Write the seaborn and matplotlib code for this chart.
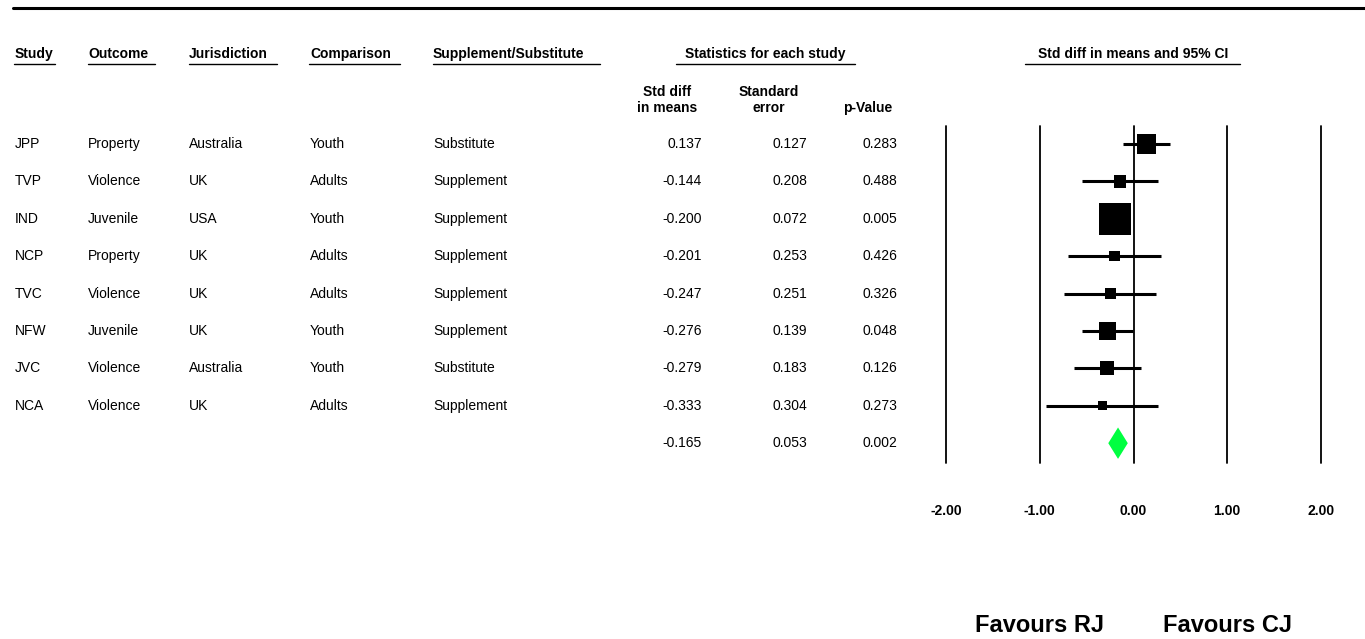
import matplotlib
matplotlib.use("Agg")
import matplotlib.pyplot as plt
import matplotlib.transforms as mtransforms
from matplotlib.lines import Line2D
import seaborn as sns

# study rows
studies = ['JPP', 'TVP', 'IND', 'NCP', 'TVC', 'NFW', 'JVC', 'NCA']
outcomes = ['Property', 'Violence', 'Juvenile', 'Property', 'Violence', 'Juvenile', 'Violence', 'Violence']
jurisdictions = ['Australia', 'UK', 'USA', 'UK', 'UK', 'UK', 'Australia', 'UK']
comparisons = ['Youth', 'Adults', 'Youth', 'Adults', 'Adults', 'Youth', 'Youth', 'Adults']
supp_subst = ['Substitute', 'Supplement', 'Supplement', 'Supplement', 'Supplement',
              'Supplement', 'Substitute', 'Supplement']
std_diff = [0.137, -0.144, -0.200, -0.201, -0.247, -0.276, -0.279, -0.333]
std_err = [0.127, 0.208, 0.072, 0.253, 0.251, 0.139, 0.183, 0.304]
p_values = [0.283, 0.488, 0.005, 0.426, 0.326, 0.048, 0.126, 0.273]
ci_lower = [-0.112, -0.552, -0.341, -0.697, -0.739, -0.548, -0.638, -0.929]
ci_upper = [0.386, 0.264, -0.059, 0.295, 0.245, -0.004, 0.080, 0.263]

# pooled result
pooled_diff = -0.165
pooled_se = 0.053
pooled_p = 0.002
pooled_lower = -0.269
pooled_upper = -0.061

ticks = [-2, -1, 0, 1, 2]
tick_labels = ['-2.00', '-1.00', '0.00', '1.00', '2.00']

sns.set_theme(style='white')
plt.rcParams['font.family'] = ['Liberation Sans', 'DejaVu Sans']
plt.rcParams['text.color'] = 'black'

W, H, DPI = 1365, 639, 100
fig = plt.figure(figsize=(W / DPI, H / DPI), dpi=DPI)


def fx(px):
    return px / W


def fy(py):
    return 1 - py / H


# forest panel
ax = fig.add_axes([fx(946), fy(463), (1321 - 946) / W, (463 - 126) / H])
ax.set_xlim(-2, 2)
ax.set_ylim(8.53, -0.48)
ax.axis('off')

for t in ticks:
    ax.axvline(t, color='black', lw=1.3, clip_on=False)

rows = list(range(len(studies)))
ax.hlines(rows, ci_lower, ci_upper, color='black', lw=2.2)
# box side roughly follows study weight
sides = [(2.2 / s + 1.8) * 72 / DPI for s in std_err]
sns.scatterplot(x=std_diff, y=rows, marker='s', color='black', s=[v ** 2 for v in sides],
                linewidth=0, ax=ax, clip_on=False, zorder=3)

sum_row = len(studies)
ax.fill([pooled_lower, pooled_diff, pooled_upper, pooled_diff],
        [sum_row, sum_row - 0.42, sum_row, sum_row + 0.42],
        color='#00ff40', lw=0, zorder=3)

# tick labels and favours labels
tx = mtransforms.blended_transform_factory(ax.transData, fig.transFigure)
for t, lab in zip(ticks, tick_labels):
    fig.text(t, fy(511), lab, transform=tx, ha='center', va='center',
             fontsize=10, fontweight='bold')
fig.text(-1, fy(625), 'Favours RJ', transform=tx, ha='center', va='center',
         fontsize=17, fontweight='bold')
fig.text(1, fy(625), 'Favours CJ', transform=tx, ha='center', va='center',
         fontsize=17, fontweight='bold')

# table text
rt = mtransforms.blended_transform_factory(fig.transFigure, ax.transData)
for i in rows:
    fig.text(fx(15), i, studies[i], transform=rt, va='center', fontsize=10)
    fig.text(fx(88), i, outcomes[i], transform=rt, va='center', fontsize=10)
    fig.text(fx(189), i, jurisdictions[i], transform=rt, va='center', fontsize=10)
    fig.text(fx(310), i, comparisons[i], transform=rt, va='center', fontsize=10)
    fig.text(fx(433), i, supp_subst[i], transform=rt, va='center', fontsize=10)
    fig.text(fx(702), i, f'{std_diff[i]:.3f}', transform=rt, va='center', ha='right', fontsize=10)
    fig.text(fx(807), i, f'{std_err[i]:.3f}', transform=rt, va='center', ha='right', fontsize=10)
    fig.text(fx(897), i, f'{p_values[i]:.3f}', transform=rt, va='center', ha='right', fontsize=10)
fig.text(fx(702), sum_row, f'{pooled_diff:.3f}', transform=rt, va='center', ha='right', fontsize=10)
fig.text(fx(807), sum_row, f'{pooled_se:.3f}', transform=rt, va='center', ha='right', fontsize=10)
fig.text(fx(897), sum_row, f'{pooled_p:.3f}', transform=rt, va='center', ha='right', fontsize=10)

# headers with underlines
headers = [('Study', 15, 14, 55), ('Outcome', 88, 88, 155), ('Jurisdiction', 189, 189, 277),
           ('Comparison', 310, 309, 400), ('Supplement/Substitute', 433, 433, 600)]
for txt, x, u0, u1 in headers:
    fig.text(fx(x), fy(54), txt, va='center', fontsize=10, fontweight='bold')
    fig.add_artist(Line2D([fx(u0), fx(u1)], [fy(64), fy(64)], color='black', lw=1))

fig.text(fx(765), fy(54), 'Statistics for each study', ha='center', va='center',
         fontsize=10, fontweight='bold')
fig.add_artist(Line2D([fx(676), fx(855)], [fy(64), fy(64)], color='black', lw=1))
fig.text(fx(1133), fy(54), 'Std diff in means and 95% CI', ha='center', va='center',
         fontsize=10, fontweight='bold')
fig.add_artist(Line2D([fx(1025), fx(1240)], [fy(64), fy(64)], color='black', lw=1))

fig.text(fx(667), fy(100), 'Std diff\nin means', ha='center', va='center',
         fontsize=10, fontweight='bold', linespacing=1.15)
fig.text(fx(769), fy(100), 'Standard\nerror', ha='center', va='center',
         fontsize=10, fontweight='bold', linespacing=1.15)
fig.text(fx(868), fy(108), 'p-Value', ha='center', va='center', fontsize=10, fontweight='bold')

# top rule
fig.add_artist(Line2D([fx(13), 1], [fy(8), fy(8)], color='black', lw=2.2))

fig.savefig('out.png', dpi=DPI)
